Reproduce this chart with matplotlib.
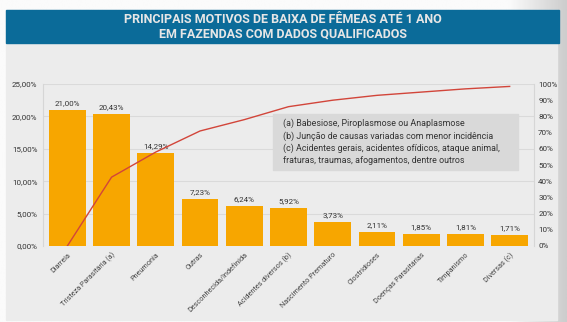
import numpy as np
import matplotlib
matplotlib.use("Agg")
import matplotlib.pyplot as plt
from matplotlib.patches import Rectangle

plt.rcParams["font.family"] = ["Roboto", "DejaVu Sans"]

categories = ["Diarreia", "Tristeza Parasitária (a)", "Pneumonia", "Outras",
              "Desconhecida/Indefinida", "Acidentes diversos (b)",
              "Nascimento Prematuro", "Clostridioses", "Doenças Parasitárias",
              "Timpanismo", "Diversas (c)"]
share = [21.00, 20.43, 14.29, 7.23, 6.24, 5.92, 3.73, 2.11, 1.85, 1.81, 1.71]
labels = ["21,00%", "20,43%", "14,29%", "7,23%", "6,24%", "5,92%", "3,73%",
          "2,11%", "1,85%", "1,81%", "1,71%"]
cumulative = [0, 42.5, 58, 71, 78, 86, 90, 93, 95, 97, 98.5]

left_ticks = [0, 5, 10, 15, 20, 25]
left_tick_labels = ["0,00%", "5,00%", "10,00%", "15,00%", "20,00%", "25,00%"]
right_ticks = list(range(0, 101, 10))
right_tick_labels = [f"{t}%" for t in right_ticks]

title = "PRINCIPAIS MOTIVOS DE BAIXA DE FÊMEAS ATÉ 1 ANO\nEM FAZENDAS COM DADOS QUALIFICADOS"
notes = ("(a) Babesiose, Piroplasmose ou Anaplasmose\n"
         "(b) Junção de causas variadas com menor incidência\n"
         "(c) Acidentes gerais, acidentes ofídicos, ataque animal,\n"
         "fraturas, traumas, afogamentos, dentre outros")

W, H = 567, 322
fig = plt.figure(figsize=(W / 100, H / 100), dpi=100)


def fx(px):
    return px / W


def fy(py):
    return 1 - py / H


# background gradient
bg = fig.add_axes([0, 0, 1, 1], zorder=-10)
grad = np.linspace(0, 1, 256)
grad = np.clip((grad - 0.9) / 0.1, 0, 1)[None, :]
bg.imshow(grad, aspect="auto", cmap=matplotlib.colors.LinearSegmentedColormap.from_list(
    "g", ["#fbfbfb", "#cdcdcd"]), extent=[0, 1, 0, 1])
bg.set_axis_off()

# panel + title band
fig.patches.append(Rectangle((fx(6), fy(320)), fx(557) - fx(6), fy(10) - fy(320),
                             transform=fig.transFigure, color="#ececec", zorder=-5))
fig.patches.append(Rectangle((fx(6), fy(43)), fx(559) - fx(6), fy(10) - fy(43),
                             transform=fig.transFigure, color="#0b6b99", zorder=-4))
fig.text(fx(283), fy(26.5), title, ha="center", va="center", color="#e6e6e6",
         fontsize=9, fontweight="bold", linespacing=1.15)

ax = fig.add_axes([fx(43), fy(246), fx(534) - fx(43), fy(84) - fy(246)])
ax.set_facecolor("#ececec")
x = np.arange(len(categories))
ax.bar(x, share, width=0.83, color="#f7a600", zorder=3)
for xi, v, lab in zip(x, share, labels):
    ax.text(xi, v + 0.6, lab, ha="center", va="bottom", fontsize=5.8,
            color="#333333", zorder=4)

ax.set_ylim(0, 25)
ax.set_xlim(-0.55, len(categories) - 0.45)
ax.set_yticks(left_ticks, left_tick_labels)
ax.set_xticks(x, categories, rotation=45, ha="right", rotation_mode="anchor")
ax.tick_params(axis="x", length=0, labelsize=5.2, colors="#444444", pad=4)
ax.tick_params(axis="y", length=0, labelsize=5.8, colors="#333333", pad=4)
ax.grid(axis="y", color="#dadada", linewidth=0.8, zorder=0)
for side in ["top", "bottom"]:
    ax.spines[side].set_visible(False)
for side in ["left", "right"]:
    ax.spines[side].set_color("#d6d6d6")
    ax.spines[side].set_linewidth(0.8)

ax2 = ax.twinx()
ax2.plot(x, cumulative, color="#d2453a", linewidth=1.0, zorder=5)
ax2.set_ylim(0, 100)
ax2.set_yticks(right_ticks, right_tick_labels)
ax2.tick_params(axis="y", length=0, labelsize=5.8, colors="#333333", pad=3)
for side in ["top", "bottom", "left", "right"]:
    ax2.spines[side].set_visible(False)

# notes box
fig.patches.append(Rectangle((fx(273), fy(170)), fx(518) - fx(273), fy(114) - fy(170),
                             transform=fig.transFigure, color="#d9d9d9", zorder=6))
fig.text(fx(283), fy(142), notes, ha="left", va="center", fontsize=6.4,
         color="#333333", linespacing=1.4, zorder=7)

fig.savefig("out.png", dpi=100)
